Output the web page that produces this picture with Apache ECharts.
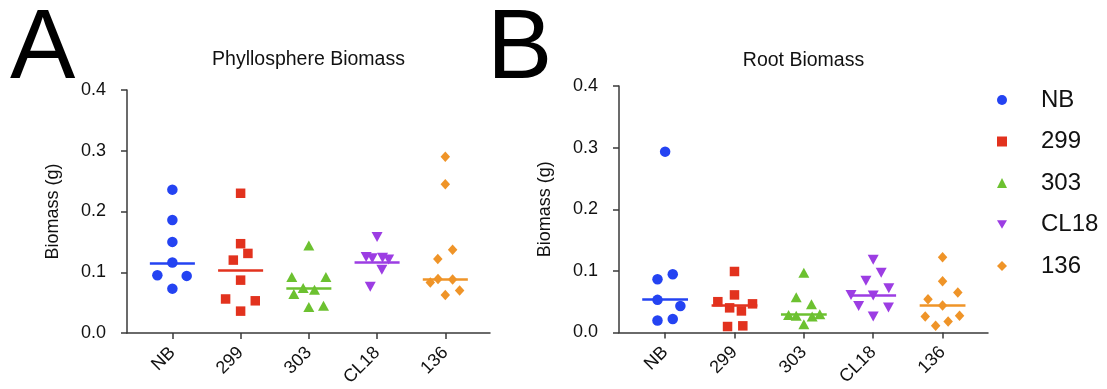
<!DOCTYPE html>
<html>
<head>
<meta charset="utf-8">
<script src="https://cdn.jsdelivr.net/npm/echarts@6/dist/echarts.min.js"></script>
<style>
  html, body { margin: 0; padding: 0; background: #fff; }
  #chart { width: 1107px; height: 389px; }
</style>
</head>
<body>
<div id="chart"></div>
<script>
// groups on the x axis (also the legend)
const groups = ['NB', '299', '303', 'CL18', '136'];

// panel A: phyllosphere biomass (g), one list per group
const phylloValues = [
  [0.236, 0.186, 0.150, 0.116, 0.095, 0.094, 0.073],
  [0.230, 0.147, 0.131, 0.120, 0.087, 0.056, 0.053, 0.036],
  [0.144, 0.092, 0.092, 0.074, 0.071, 0.064, 0.045, 0.043],
  [0.158, 0.125, 0.123, 0.124, 0.121, 0.104, 0.076],
  [0.290, 0.245, 0.137, 0.122, 0.089, 0.088, 0.083, 0.070, 0.0625]
];
// horizontal scatter of each point, in group widths
const phylloJitter = [
  [0, 0, 0, 0, -0.22, 0.21, 0],
  [0, 0, 0.107, -0.107, 0, -0.22, 0.215, 0],
  [0, -0.25, 0.25, -0.083, 0.083, -0.22, 0.215, 0],
  [0, -0.16, -0.07, 0.08, 0.17, 0.07, -0.1],
  [0, 0, 0.107, -0.11, -0.107, 0.107, -0.22, 0.21, 0]
];
const phylloMedian = [0.1156, 0.1036, 0.074, 0.117, 0.089];

// panel B: root biomass (g)
const rootValues = [
  [0.2935, 0.0946, 0.0865, 0.053, 0.043, 0.022, 0.0195],
  [0.099, 0.061, 0.050, 0.0465, 0.040, 0.035, 0.0108, 0.0097],
  [0.097, 0.057, 0.046, 0.0297, 0.0286, 0.027, 0.026, 0.0135],
  [0.118, 0.097, 0.084, 0.072, 0.061, 0.060, 0.043, 0.0405, 0.026],
  [0.122, 0.083, 0.065, 0.054, 0.044, 0.027, 0.026, 0.018, 0.011]
];
const rootJitter = [
  [0, 0.11, -0.11, -0.11, 0.22, 0.11, -0.11],
  [0, 0, -0.24, 0.26, -0.07, 0.1, 0.12, -0.1],
  [0, -0.11, 0.11, 0.23, -0.22, -0.11, 0.12, 0],
  [0, 0.115, -0.105, 0.225, -0.32, 0, -0.21, 0.22, 0],
  [0, 0, 0.22, -0.21, 0, 0.245, -0.25, 0.08, -0.1]
];
const rootMedian = [0.054, 0.044, 0.0297, 0.060, 0.044];

const yTicks = [0, 0.1, 0.2, 0.3, 0.4];

const colors = ['#2443f2', '#e2321e', '#6cc130', '#9c3de3', '#ef9428'];
const symbols = ['circle', 'rect', 'triangle', 'triangle', 'diamond'];
const symbolRot = [0, 0, 0, 180, 0];
const symbolSizes = [10.5, 9.5, [11, 10], [11, 10], [9.5, 10.5]];
const FONT = '"Liberation Sans", Arial, sans-serif';
const medianHalf = 0.33;

const chart = echarts.init(document.getElementById('chart'), null, { renderer: 'canvas' });

function xAxisFor(gridIndex) {
  return {
    gridIndex: gridIndex,
    type: 'value',
    min: -0.665,
    max: 4.655,
    axisLine: { onZero: false, lineStyle: { color: '#3a3a3a', width: 1.5 } },
    axisTick: { customValues: [0, 1, 2, 3, 4], length: 6, lineStyle: { color: '#3a3a3a', width: 1.5 } },
    axisLabel: {
      customValues: [0, 1, 2, 3, 4],
      formatter: v => groups[Math.round(v)],
      rotate: 45,
      margin: 17,
      color: '#111',
      fontSize: 18,
      fontFamily: FONT
    },
    splitLine: { show: false }
  };
}

function yAxisFor(gridIndex) {
  return {
    gridIndex: gridIndex,
    type: 'value',
    min: yTicks[0],
    max: yTicks[yTicks.length - 1],
    interval: 0.1,
    name: 'Biomass (g)',
    nameLocation: 'middle',
    nameGap: 65,
    nameTextStyle: { color: '#111', fontSize: 18, fontFamily: FONT },
    axisLine: { show: true, onZero: false, lineStyle: { color: '#3a3a3a', width: 1.5 } },
    axisTick: { show: true, length: 6, lineStyle: { color: '#3a3a3a', width: 1.5 } },
    axisLabel: {
      formatter: v => v.toFixed(1),
      margin: 21,
      color: '#111',
      fontSize: 18,
      fontFamily: FONT
    },
    splitLine: { show: false }
  };
}

function panelSeries(gridIndex, values, jitter, medians) {
  return groups.map((g, i) => ({
    name: g,
    type: 'scatter',
    xAxisIndex: gridIndex,
    yAxisIndex: gridIndex,
    symbol: symbols[i],
    symbolRotate: symbolRot[i],
    symbolSize: symbolSizes[i],
    itemStyle: { color: colors[i], opacity: 1 },
    data: values[i].map((v, k) => [i + jitter[i][k], v]),
    markLine: {
      silent: true,
      symbol: 'none',
      label: { show: false },
      lineStyle: { color: colors[i], width: 2.5, type: 'solid' },
      data: [[{ coord: [i - medianHalf, medians[i]] }, { coord: [i + medianHalf, medians[i]] }]]
    }
  }));
}

const legendData = groups.map(g => g === 'CL18'
  ? { name: g, icon: 'path://M0,0 L12,0 L6,10 Z' }
  : { name: g });

const option = {
  animation: false,
  backgroundColor: '#fff',
  textStyle: { fontFamily: FONT },
  grid: [
    { left: 127, top: 90, width: 363, height: 243 },
    { left: 619, top: 86, width: 369, height: 246.5 }
  ],
  xAxis: [xAxisFor(0), xAxisFor(1)],
  yAxis: [yAxisFor(0), yAxisFor(1)],
  legend: {
    data: legendData,
    orient: 'vertical',
    left: 997,
    top: 88,
    padding: 0,
    itemWidth: 10,
    itemHeight: 10,
    itemGap: 17.5,
    selectedMode: false,
    formatter: '{t|{name}}',
    textStyle: {
      color: '#111',
      fontSize: 24,
      lineHeight: 24,
      fontFamily: FONT,
      rich: { t: { fontSize: 24, lineHeight: 24, padding: [0, 0, 0, 29], fontFamily: FONT, color: '#111' } }
    }
  },
  graphic: [
    { type: 'text', left: 10, top: 2, style: { text: 'A', font: '98px ' + FONT, fill: '#000' } },
    { type: 'text', left: 487, top: 2, style: { text: 'B', font: '98px ' + FONT, fill: '#000' } },
    { type: 'text', x: 308.5, y: 60, style: { text: 'Phyllosphere Biomass', font: '19.5px ' + FONT, fill: '#111', align: 'center', verticalAlign: 'middle' } },
    { type: 'text', x: 803.5, y: 61, style: { text: 'Root Biomass', font: '19.5px ' + FONT, fill: '#111', align: 'center', verticalAlign: 'middle' } }
  ],
  series: panelSeries(0, phylloValues, phylloJitter, phylloMedian)
    .concat(panelSeries(1, rootValues, rootJitter, rootMedian))
};

chart.setOption(option);
</script>
</body>
</html>
